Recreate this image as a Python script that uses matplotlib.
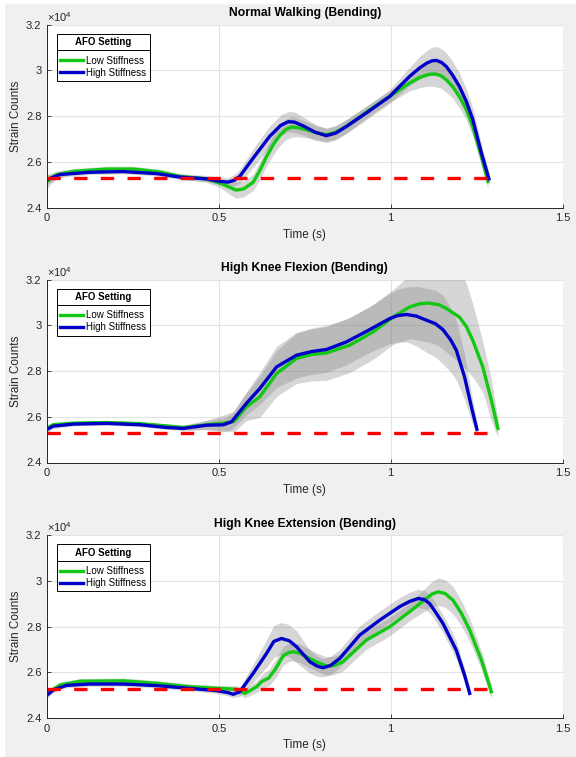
import numpy as np
import matplotlib
matplotlib.use("Agg")
import matplotlib.pyplot as plt
from matplotlib.lines import Line2D
from matplotlib.patches import Rectangle
from matplotlib.transforms import IdentityTransform
from matplotlib.ticker import FuncFormatter

plt.rcParams['font.family'] = ['Liberation Sans', 'DejaVu Sans']
plt.rcParams['mathtext.fontset'] = 'custom'
plt.rcParams['mathtext.rm'] = 'Liberation Sans'

# all strain values in units of 1e4 counts
SCALE = 1e4
baseline = 2.529

titles = ['Normal Walking (Bending)', 'High Knee Flexion (Bending)', 'High Knee Extension (Bending)']
labels = ['Low Stiffness', 'High Stiffness']

# Normal walking
walk_low_t = [0, 0.028, 0.077, 0.174, 0.251, 0.329, 0.387, 0.464, 0.503, 0.53, 0.55, 0.572, 0.6, 0.62, 0.639,
              0.66, 0.677, 0.695, 0.712, 0.73, 0.755, 0.785, 0.813, 0.84, 0.871, 0.939, 0.997, 1.055, 1.085,
              1.11, 1.128, 1.145, 1.162, 1.18, 1.2, 1.22, 1.239, 1.264, 1.283]
walk_low = [2.515, 2.545, 2.559, 2.569, 2.569, 2.556, 2.537, 2.526, 2.508, 2.49, 2.477, 2.482, 2.511, 2.565,
            2.624, 2.68, 2.715, 2.742, 2.753, 2.75, 2.741, 2.727, 2.719, 2.73, 2.755, 2.828, 2.886, 2.945,
            2.97, 2.982, 2.985, 2.978, 2.959, 2.93, 2.886, 2.83, 2.755, 2.624, 2.515]
walk_low_sd = [0.03, 0.015, 0.012, 0.012, 0.012, 0.012, 0.012, 0.015, 0.02, 0.03, 0.035, 0.035, 0.035, 0.04,
               0.04, 0.045, 0.045, 0.045, 0.045, 0.04, 0.035, 0.03, 0.03, 0.03, 0.03, 0.025, 0.025, 0.035,
               0.045, 0.05, 0.055, 0.055, 0.055, 0.05, 0.05, 0.045, 0.045, 0.04, 0.03]
walk_high_t = [0, 0.038, 0.125, 0.222, 0.319, 0.387, 0.464, 0.503, 0.527, 0.545, 0.561, 0.6, 0.648, 0.68,
               0.702, 0.72, 0.745, 0.78, 0.813, 0.84, 0.871, 0.929, 0.997, 1.055, 1.085, 1.105, 1.12, 1.133,
               1.148, 1.162, 1.18, 1.2, 1.22, 1.239, 1.264, 1.286]
walk_high = [2.523, 2.545, 2.555, 2.558, 2.549, 2.534, 2.526, 2.515, 2.512, 2.52, 2.537, 2.617, 2.712, 2.76,
             2.776, 2.774, 2.758, 2.73, 2.715, 2.726, 2.755, 2.814, 2.886, 2.974, 3.012, 3.032, 3.042, 3.044,
             3.035, 3.017, 2.98, 2.93, 2.865, 2.785, 2.639, 2.526]
walk_high_sd = [0.02, 0.012, 0.01, 0.01, 0.01, 0.01, 0.012, 0.015, 0.02, 0.025, 0.03, 0.04, 0.045, 0.045,
                0.045, 0.045, 0.04, 0.035, 0.03, 0.03, 0.03, 0.03, 0.03, 0.04, 0.05, 0.055, 0.06, 0.06,
                0.06, 0.06, 0.06, 0.06, 0.055, 0.05, 0.04, 0.03]

# High knee flexion
flex_low_t = [0, 0.018, 0.077, 0.174, 0.27, 0.348, 0.396, 0.464, 0.513, 0.545, 0.58, 0.619, 0.668, 0.726,
              0.77, 0.813, 0.881, 0.949, 1.007, 1.055, 1.085, 1.109, 1.14, 1.162, 1.2, 1.22, 1.239, 1.268,
              1.293, 1.312]
flex_low = [2.55, 2.565, 2.572, 2.575, 2.57, 2.56, 2.553, 2.565, 2.572, 2.58, 2.643, 2.687, 2.789, 2.855,
            2.872, 2.879, 2.913, 2.971, 3.036, 3.08, 3.094, 3.097, 3.09, 3.073, 3.036, 2.995, 2.934, 2.818,
            2.672, 2.549]
flex_low_sd = [0.015, 0.01, 0.008, 0.008, 0.008, 0.008, 0.01, 0.02, 0.035, 0.045, 0.06, 0.09, 0.1, 0.11,
               0.115, 0.12, 0.12, 0.12, 0.12, 0.14, 0.16, 0.17, 0.18, 0.19, 0.2, 0.19, 0.16, 0.11, 0.09, 0.04]
flex_high_t = [0, 0.018, 0.077, 0.174, 0.27, 0.348, 0.396, 0.464, 0.513, 0.537, 0.58, 0.619, 0.668, 0.726,
               0.77, 0.813, 0.871, 0.939, 0.997, 1.02, 1.046, 1.075, 1.104, 1.13, 1.152, 1.175, 1.191, 1.215,
               1.235, 1.251]
flex_high = [2.545, 2.559, 2.568, 2.571, 2.565, 2.553, 2.549, 2.563, 2.565, 2.578, 2.658, 2.723, 2.818,
             2.869, 2.885, 2.894, 2.927, 2.981, 3.029, 3.042, 3.047, 3.04, 3.022, 3.007, 2.981, 2.935, 2.891,
             2.774, 2.643, 2.545]
flex_high_sd = [0.015, 0.01, 0.008, 0.008, 0.008, 0.008, 0.01, 0.02, 0.03, 0.035, 0.05, 0.07, 0.09, 0.1,
                0.1, 0.1, 0.1, 0.1, 0.11, 0.115, 0.12, 0.13, 0.14, 0.145, 0.15, 0.14, 0.13, 0.1, 0.06, 0.03]

# High knee extension
ext_low_t = [0, 0.038, 0.096, 0.222, 0.319, 0.416, 0.503, 0.551, 0.576, 0.61, 0.625, 0.645, 0.665, 0.687,
             0.702, 0.716, 0.735, 0.755, 0.785, 0.813, 0.835, 0.861, 0.929, 0.997, 1.055, 1.104, 1.12, 1.138,
             1.158, 1.181, 1.205, 1.23, 1.264, 1.293]
ext_low = [2.508, 2.545, 2.561, 2.563, 2.552, 2.537, 2.530, 2.526, 2.508, 2.537, 2.56, 2.575, 2.615, 2.672,
           2.686, 2.69, 2.684, 2.668, 2.645, 2.628, 2.63, 2.646, 2.741, 2.799, 2.865, 2.923, 2.942, 2.952,
           2.945, 2.916, 2.86, 2.785, 2.654, 2.515]
ext_low_sd = [0.015, 0.012, 0.012, 0.012, 0.012, 0.012, 0.012, 0.015, 0.02, 0.025, 0.03, 0.035, 0.04, 0.04,
              0.04, 0.04, 0.04, 0.04, 0.04, 0.04, 0.04, 0.04, 0.04, 0.04, 0.04, 0.05, 0.055, 0.06, 0.06,
              0.06, 0.055, 0.05, 0.04, 0.03]
ext_high_t = [0, 0.018, 0.057, 0.125, 0.222, 0.319, 0.416, 0.493, 0.525, 0.542, 0.561, 0.6, 0.639, 0.66,
              0.682, 0.705, 0.726, 0.765, 0.785, 0.803, 0.825, 0.852, 0.91, 0.968, 1.026, 1.055, 1.08, 1.098,
              1.113, 1.13, 1.152, 1.191, 1.215, 1.23]
ext_high = [2.501, 2.523, 2.543, 2.549, 2.549, 2.542, 2.530, 2.520, 2.512, 2.504, 2.515, 2.596, 2.683, 2.735,
            2.748, 2.738, 2.712, 2.646, 2.628, 2.62, 2.63, 2.661, 2.763, 2.828, 2.887, 2.91, 2.923, 2.918,
            2.901, 2.865, 2.814, 2.697, 2.588, 2.508]
ext_high_sd = [0.015, 0.01, 0.01, 0.01, 0.01, 0.01, 0.01, 0.012, 0.014, 0.015, 0.02, 0.04, 0.06, 0.07, 0.07,
               0.07, 0.07, 0.05, 0.045, 0.04, 0.04, 0.04, 0.04, 0.04, 0.04, 0.04, 0.04, 0.04, 0.04, 0.04,
               0.04, 0.04, 0.03, 0.02]

panels = [
    (walk_low_t, walk_low, walk_low_sd, walk_high_t, walk_high, walk_high_sd),
    (flex_low_t, flex_low, flex_low_sd, flex_high_t, flex_high, flex_high_sd),
    (ext_low_t, ext_low, ext_low_sd, ext_high_t, ext_high, ext_high_sd),
]

green = '#12c812'
blue = '#0000c8'
txt = '#262626'

fig = plt.figure(figsize=(5.76, 7.57), dpi=100, facecolor='white')
fig.add_artist(Rectangle((5 / 576, 0), 1, 1 - 4 / 757, transform=fig.transFigure,
                         facecolor='#f0f0f0', edgecolor='none', zorder=-10))

bottoms = [1 - 207.7 / 757, 1 - 462.5 / 757, 1 - 718.1 / 757]
height = 183 / 757
left = 47 / 576
width = 515.5 / 576

legends = []
for i, (lt, lv, ls, ht, hv, hs) in enumerate(panels):
    ax = fig.add_axes([left, bottoms[i], width, height])
    lt, lv, ls = np.array(lt), np.array(lv), np.array(ls)
    ht, hv, hs = np.array(ht), np.array(hv), np.array(hs)

    ax.fill_between(lt, (lv - ls) * SCALE, (lv + ls) * SCALE, color='0.5', alpha=0.32, lw=0)
    ax.fill_between(ht, (hv - hs) * SCALE, (hv + hs) * SCALE, color='0.5', alpha=0.32, lw=0)
    lo, = ax.plot(lt, lv * SCALE, color=green, lw=2.4, solid_joinstyle='round')
    hi, = ax.plot(ht, hv * SCALE, color=blue, lw=2.4, solid_joinstyle='round')
    t_end = max(lt[-1], ht[-1])
    ax.plot([0, t_end], [baseline * SCALE, baseline * SCALE], color='red', lw=2.4, dashes=(4, 4))

    ax.set_xlim(0, 1.5)
    ax.set_ylim(2.4 * SCALE, 3.2 * SCALE)
    ax.set_xticks([0, 0.5, 1, 1.5])
    ax.set_yticks(np.arange(2.4, 3.21, 0.2) * SCALE)
    ax.xaxis.set_major_formatter(FuncFormatter(lambda v, p: f"{v:g}"))
    ax.yaxis.set_major_formatter(FuncFormatter(lambda v, p: f"{v / SCALE:.4g}"))
    ax.tick_params(direction='in', length=3, width=0.6, colors=txt, labelsize=8, pad=4)
    for s in ['top', 'right']:
        ax.spines[s].set_visible(False)
    for s in ['left', 'bottom']:
        ax.spines[s].set_color(txt)
        ax.spines[s].set_linewidth(0.7)
    ax.grid(True, color='#e3e3e3', lw=0.8)
    ax.set_axisbelow(True)

    ax.set_title(titles[i], fontsize=8.7, fontweight='bold', pad=6)
    ax.set_xlabel('Time (s)', fontsize=8.5, color=txt, labelpad=4)
    ax.set_ylabel('Strain Counts', fontsize=8.5, color=txt, labelpad=3)
    ax.text(0, 1.005, r'$\times10^{4}$', transform=ax.transAxes, fontsize=8, color=txt,
            ha='left', va='bottom')

    leg = ax.legend([lo, hi], labels, title='AFO Setting', loc='upper left',
                    bbox_to_anchor=(0.0194, 0.95), borderaxespad=0, fontsize=7,
                    title_fontproperties={'weight': 'bold', 'size': 7},
                    frameon=True, fancybox=False, edgecolor='black', framealpha=1,
                    handlelength=2.3, handletextpad=0.35, borderpad=0.35, labelspacing=0.2)
    leg.get_frame().set_linewidth(0.7)
    # extra room between the title and the entries
    leg._legend_box.sep = 6
    legends.append(leg)

# line under each legend title
fig.canvas.draw()
renderer = fig.canvas.get_renderer()
for leg in legends:
    tb = leg.get_title().get_window_extent(renderer)
    fb = leg.get_frame().get_window_extent(renderer)
    y = tb.y0 - 3
    fig.add_artist(Line2D([fb.x0, fb.x1], [y, y], transform=IdentityTransform(),
                          color='black', lw=0.7))

fig.savefig('out.png', dpi=100, facecolor=fig.get_facecolor())
